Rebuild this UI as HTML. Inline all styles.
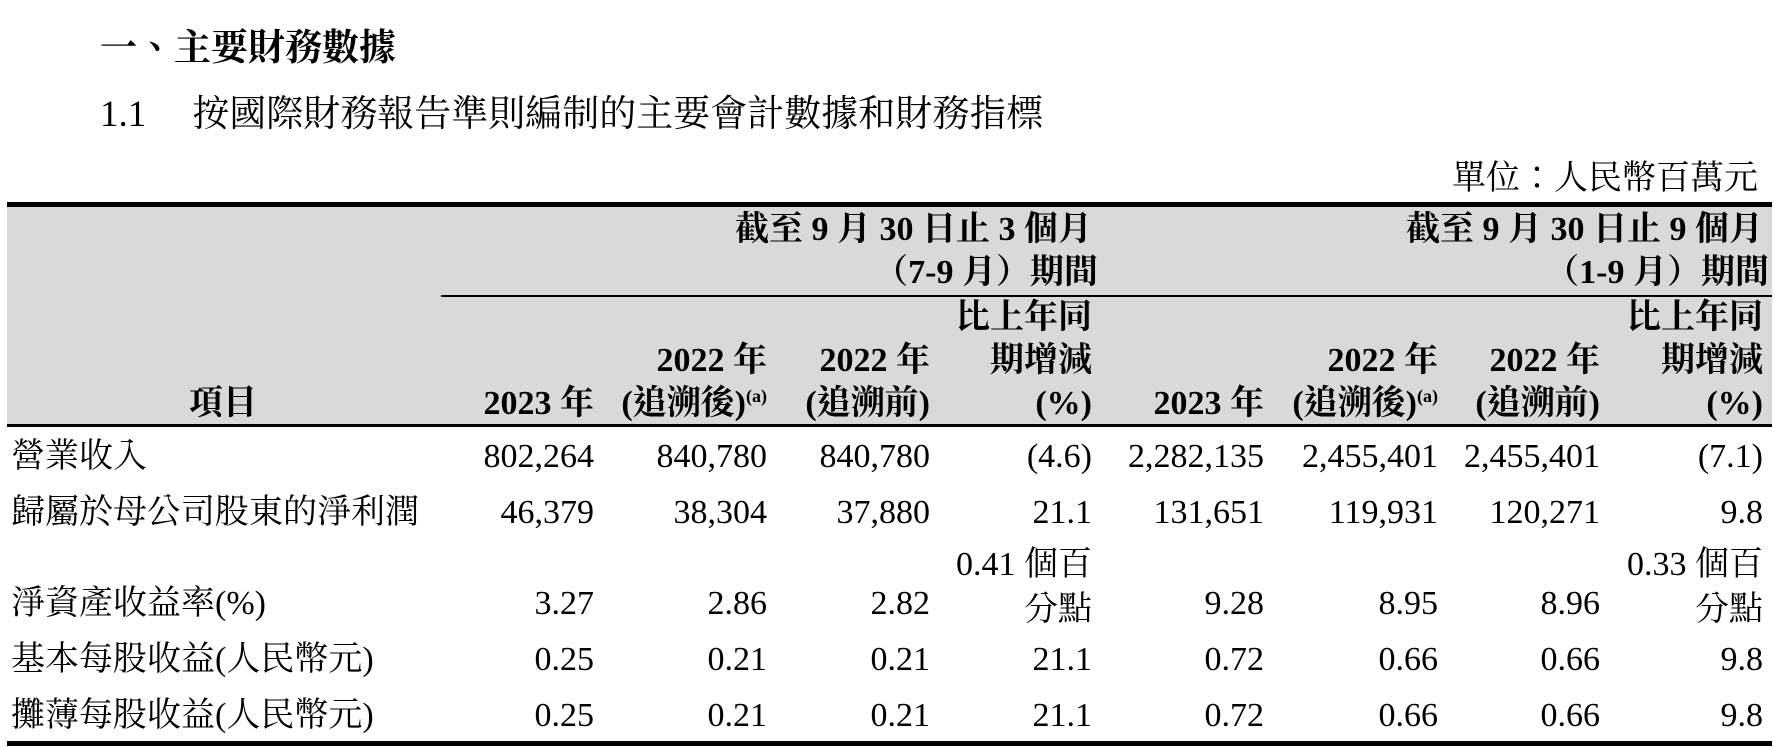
<!DOCTYPE html>
<html><head><meta charset="utf-8">
<style>
body{margin:0;width:1775px;height:747px;background:#fff;position:relative;overflow:hidden;font-family:"Liberation Serif","Noto Serif CJK TC","Noto Serif CJK SC",serif;color:#000}
.t{position:absolute;white-space:nowrap;line-height:34px;font-size:34px}
.b{font-weight:bold}
.r{text-align:right}
sup{font-size:18px;vertical-align:12px;line-height:0}
</style></head><body>
<div class="t b" style="left:100px;top:30px;font-size:37px;line-height:37px">一、主要財務數據</div>
<div class="t" style="left:100px;top:96px;font-size:37px;line-height:37px">1.1<span style="display:inline-block;width:46px"></span>按國際財務報告準則編制的主要會計數據和財務指標</div>
<div class="t" style="right:17px;top:162px">單位：人民幣百萬元</div>
<div style="position:absolute;left:7px;top:206px;width:1765px;height:219px;background:#d9d9d9"></div>
<div style="position:absolute;left:7px;top:202px;width:1765px;height:5px;background:#000"></div>
<div style="position:absolute;left:441px;top:295px;width:1331px;height:2px;background:#000"></div>
<div style="position:absolute;left:7px;top:424px;width:1765px;height:3px;background:#000"></div>
<div style="position:absolute;left:7px;top:741px;width:1765px;height:5px;background:#000"></div>
<div id="tbl"></div>
<script>
const colRights=[594,767,930,1092,1264,1438,1600,1763];
const rowLabels=["營業收入","歸屬於母公司股東的淨利潤","淨資產收益率(%)","基本每股收益(人民幣元)","攤薄每股收益(人民幣元)"];
const rowRevenue=["802,264","840,780","840,780","(4.6)","2,282,135","2,455,401","2,455,401","(7.1)"];
const rowProfit=["46,379","38,304","37,880","21.1","131,651","119,931","120,271","9.8"];
const rowRoe=["3.27","2.86","2.82","0.41 個百|分點","9.28","8.95","8.96","0.33 個百|分點"];
const rowEpsBasic=["0.25","0.21","0.21","21.1","0.72","0.66","0.66","9.8"];
const rowEpsDiluted=["0.25","0.21","0.21","21.1","0.72","0.66","0.66","9.8"];
const rows=[rowRevenue,rowProfit,rowRoe,rowEpsBasic,rowEpsDiluted];
const rowCenters=[457,513,604,660,716];
const root=document.body;
function txt(html,cls,css){const d=document.createElement('div');d.className='t '+cls;d.style.cssText=css;d.innerHTML=html;root.appendChild(d);return d;}
// headers
let h=txt('項目','b','left:189px;top:387px');


const groupTitles=[['截至 9 月 30 日止 3 個月','（7-9 月）期間'],['截至 9 月 30 日止 9 個月','（1-9 月）期間']];
const colHead=[['2023 年'],['2022 年','(追溯後)<sup>(a)</sup>'],['2022 年','(追溯前)'],['比上年同','期增減','(%)']];
for(let g=0;g<2;g++){
  const right=1775-colRights[g*4+3];
  let a=txt(groupTitles[g][0],'b r','right:'+right+'px;top:213px');
  
  
  let b=txt(groupTitles[g][1],'b r','right:'+(right-6)+'px;top:256px');
  
  
  for(let c=0;c<4;c++){
    const lines=colHead[c];
    lines.forEach((l,i)=>{
      const y=404-(lines.length-1-i)*43-17;
      let e=txt(l,'b r','right:'+(1775-colRights[g*4+c])+'px;top:'+y+'px');
      
      
    });
  }
}
rows.forEach((vals,r)=>{
  let lab=txt(rowLabels[r],'','left:11px;top:'+(rowCenters[r]-17)+'px');
  
  
  vals.forEach((v,c)=>{
    if(v.indexOf('|')>=0){
      const p=v.split('|');
      let e1=txt(p[0],'r','right:'+(1775-colRights[c])+'px;top:'+(565-17)+'px');
      
      
      let e2=txt(p[1],'r','right:'+(1775-colRights[c])+'px;top:'+(610-17)+'px');
      
      
    }else{
      let e=txt(v,'r','right:'+(1775-colRights[c])+'px;top:'+(rowCenters[r]-17)+'px');
      
      
    }
  });
});
</script>
</body></html>
